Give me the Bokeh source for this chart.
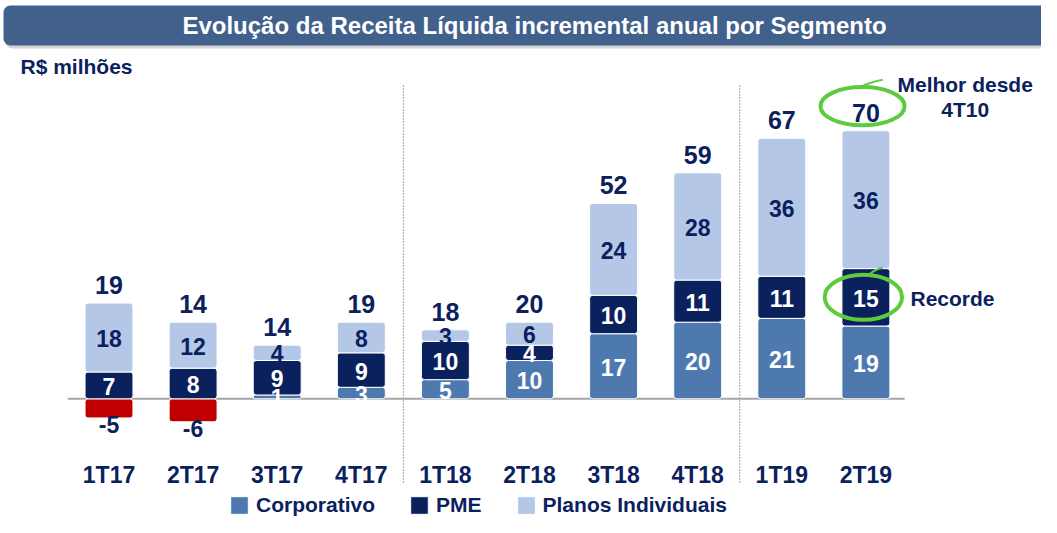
from bokeh.plotting import figure
from bokeh.models import ColumnDataSource, Range1d, Legend, LegendItem, BoxAnnotation, Label
from bokeh.core.properties import value
from bokeh.embed import file_html
from bokeh.resources import INLINE

# ---------------- data ----------------
categories = ["1T17", "2T17", "3T17", "4T17", "1T18", "2T18", "3T18", "4T18", "1T19", "2T19"]
corporativo = [-5, -6, 1, 3, 5, 10, 17, 20, 21, 19]
pme = [7, 8, 9, 9, 10, 4, 10, 11, 11, 15]
planos = [18, 12, 4, 8, 3, 6, 24, 28, 36, 36]
totais = [19, 14, 14, 19, 18, 20, 52, 59, 67, 70]
separadores = ["4T17", "4T18"]          # dotted line after these quarters
destaque = "2T19"                          # highlighted quarter

# ---------------- layout constants ----------------
W, H = 1041, 517
PX_X = 84.1      # px per category
PX_Y = 3.83      # px per R$ milhão
X0 = 108.5       # canvas x of first category centre
Y0 = 398.3       # canvas y of zero line
x_start = -X0 / PX_X
x_end = x_start + W / PX_X
y_end = Y0 / PX_Y
y_start = y_end - H / PX_Y

FONT = value("Liberation Sans")
NAVY = "#0b215e"
C_CORP = "#4e79ae"
C_NEG = "#c00000"
C_PME = "#0b215e"
C_PLAN = "#b4c7e7"
GREEN = "#5ccb3e"

n = len(categories)
xs = list(range(n))

corp_bottom = [min(c, 0) for c in corporativo]
corp_top = [max(c, 0) for c in corporativo]
corp_color = [C_CORP if c >= 0 else C_NEG for c in corporativo]
pme_bottom = corp_top
pme_top = [b + v for b, v in zip(pme_bottom, pme)]
plan_bottom = pme_top
plan_top = [b + v for b, v in zip(plan_bottom, planos)]

src = ColumnDataSource(dict(
    x=xs, cat=categories,
    corp_b=corp_bottom, corp_t=corp_top, corp_c=corp_color,
    pme_b=pme_bottom, pme_t=pme_top,
    plan_b=plan_bottom, plan_t=plan_top,
))

p = figure(width=W, height=H, output_backend="svg", toolbar_location=None,
           x_range=Range1d(x_start, x_end), y_range=Range1d(y_start, y_end),
           x_axis_type=None, y_axis_type=None,
           min_border=0, min_border_left=0, min_border_right=0,
           min_border_top=0, min_border_bottom=0)
p.grid.visible = False
p.outline_line_color = None
p.background_fill_color = "white"
p.border_fill_color = "white"

# ---------------- title bar ----------------
p.add_layout(BoxAnnotation(left=x_start + 5 / PX_X, right=x_end + 0.3,
                           top=y_end - 9 / PX_Y, bottom=y_end - 48 / PX_Y,
                           fill_color="#b0b0b0", fill_alpha=0.55, line_color=None,
                           border_radius=7))
p.add_layout(BoxAnnotation(left=x_start + 3 / PX_X, right=x_end + 0.3,
                           top=y_end - 5 / PX_Y, bottom=y_end - 45 / PX_Y,
                           fill_color="#41618c", fill_alpha=1.0, line_color=None,
                           border_radius=7))
p.add_layout(Label(x=x_start + 534 / PX_X, y=y_end - 25 / PX_Y,
                   text="Evolução da Receita Líquida incremental anual por Segmento",
                   text_font="Liberation Sans", text_font_style="bold",
                   text_font_size="24px", text_color="white",
                   text_align="center", text_baseline="middle"))
p.add_layout(Label(x=x_start + 20 / PX_X, y=y_end - 66 / PX_Y, text="R$ milhões",
                   text_font="Liberation Sans", text_font_style="bold",
                   text_font_size="21px", text_color=NAVY,
                   text_align="left", text_baseline="alphabetic"))

# ---------------- separators & zero line ----------------
sep_x = [categories.index(s) + 0.5 for s in separadores]
p.segment(x0=sep_x, x1=sep_x, y0=[y_end - 85 / PX_Y] * len(sep_x),
          y1=[-85 / PX_Y] * len(sep_x), line_color="#2a4a8a",
          line_width=1, line_dash="1 2")
p.segment(x0=[-0.49], x1=[n - 1 + 0.46], y0=[0], y1=[0],
          line_color="#a6a6a6", line_width=2)

# ---------------- bars ----------------
BW = 0.57
r_corp = p.vbar(x="x", bottom="corp_b", top="corp_t", width=BW, source=src,
                fill_color="corp_c", line_color="white", line_width=1, border_radius=3)
r_pme = p.vbar(x="x", bottom="pme_b", top="pme_t", width=BW, source=src,
               fill_color=C_PME, line_color="white", line_width=1, border_radius=3)
r_plan = p.vbar(x="x", bottom="plan_b", top="plan_t", width=BW, source=src,
                fill_color=C_PLAN, line_color="white", line_width=1, border_radius=3)

# ---------------- value labels ----------------
pos_idx = [i for i, c in enumerate(corporativo) if c > 0]
neg_idx = [i for i, c in enumerate(corporativo) if c < 0]

lab_white = ColumnDataSource(dict(
    x=[xs[i] for i in pos_idx] + xs,
    y=[corporativo[i] / 2 for i in pos_idx] + [(b + t) / 2 for b, t in zip(pme_bottom, pme_top)],
    t=[str(corporativo[i]) for i in pos_idx] + [str(v) for v in pme],
))
p.text(x="x", y="y", text="t", source=lab_white, text_font=FONT, text_font_style="bold",
       text_font_size="23px", text_color="white", text_align="center",
       text_baseline="middle", y_offset=1)

lab_plan = ColumnDataSource(dict(
    x=xs, y=[(b + t) / 2 for b, t in zip(plan_bottom, plan_top)], t=[str(v) for v in planos]))
p.text(x="x", y="y", text="t", source=lab_plan, text_font=FONT, text_font_style="bold",
       text_font_size="23px", text_color=NAVY, text_align="center",
       text_baseline="middle", y_offset=1)

lab_neg = ColumnDataSource(dict(
    x=[xs[i] for i in neg_idx], y=[corporativo[i] for i in neg_idx],
    t=[str(corporativo[i]) for i in neg_idx]))
p.text(x="x", y="y", text="t", source=lab_neg, text_font=FONT, text_font_style="bold",
       text_font_size="23px", text_color=NAVY, text_align="center",
       text_baseline="top", y_offset=-2)

lab_tot = ColumnDataSource(dict(x=xs, y=plan_top, t=[str(v) for v in totais]))
p.text(x="x", y="y", text="t", source=lab_tot, text_font=FONT, text_font_style="bold",
       text_font_size="25px", text_color=NAVY, text_align="center",
       text_baseline="alphabetic", y_offset=-18)

# category labels (x axis)
lab_cat = ColumnDataSource(dict(x=xs, y=[0] * n, t=categories))
p.text(x="x", y="y", text="t", source=lab_cat, text_font=FONT, text_font_style="bold",
       text_font_size="23px", text_color=NAVY, text_align="center",
       text_baseline="middle", y_offset=76)

# ---------------- highlights ----------------
k = categories.index(destaque)
pme_mid = (pme_bottom[k] + pme_top[k]) / 2
e1y = plan_top[k] + 6.4
p.ellipse(x=[k - 0.04, k - 0.03], y=[e1y, pme_mid],
          width=[1.0, 0.92], height=[10.0, 11.8],
          fill_color=None, line_color=GREEN, line_width=4)
p.quadratic(x0=[k - 0.1, k + 0.02], y0=[e1y + 4.7, pme_mid + 5.7],
            x1=[k + 0.2, k + 0.2], y1=[e1y + 6.9, pme_mid + 7.8],
            cx=[k + 0.05, k + 0.1], cy=[e1y + 6.3, pme_mid + 7.2],
            line_color=GREEN, line_width=2)
ann = ColumnDataSource(dict(
    x=[k + 1.18, k + 1.18], y=[plan_top[k] + 10.2, plan_top[k] + 3.6],
    t=["Melhor desde", "4T10"]))
p.text(x="x", y="y", text="t", source=ann, text_font=FONT, text_font_style="bold",
       text_font_size="21px", text_color=NAVY, text_align="center",
       text_baseline="alphabetic", y_offset=-7)
ann2 = ColumnDataSource(dict(x=[k + 0.53], y=[pme_mid], t=["Recorde"]))
p.text(x="x", y="y", text="t", source=ann2, text_font=FONT, text_font_style="bold",
       text_font_size="21px", text_color=NAVY, text_align="left",
       text_baseline="middle", y_offset=1)

# ---------------- legend ----------------
legend = Legend(items=[
    LegendItem(label="Corporativo", renderers=[r_corp], index=pos_idx[0]),
    LegendItem(label="PME", renderers=[r_pme]),
    LegendItem(label="Planos Individuais", renderers=[r_plan]),
], orientation="horizontal", location=(228, 0),
    glyph_width=22, glyph_height=22, label_standoff=6, spacing=33,
    padding=0, margin=0, border_line_color=None, background_fill_alpha=0,
    label_text_font="Liberation Sans", label_text_font_style="bold",
    label_text_font_size="21px", label_text_color=NAVY)
p.add_layout(legend)

open("out.html", "w").write(file_html(p, INLINE))
